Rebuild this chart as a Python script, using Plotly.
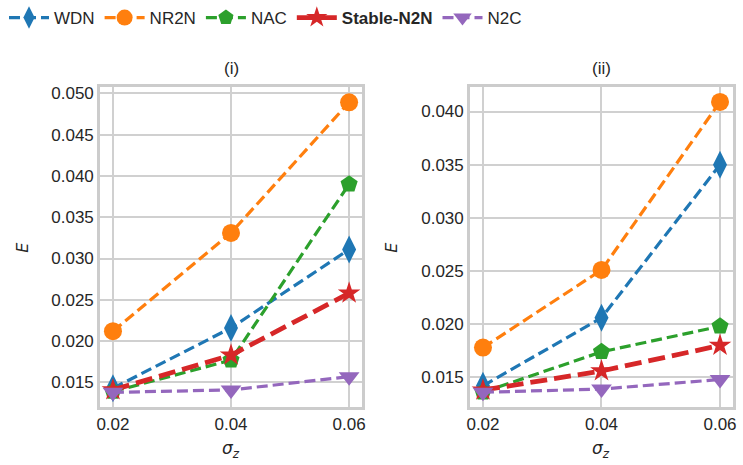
import plotly.graph_objects as go

sigma_z = [0.02, 0.04, 0.06]
methods = ["WDN", "NR2N", "NAC", "Stable-N2N", "N2C"]

# panel (i)
E_i = {
    "WDN":        [0.0143, 0.0216, 0.0311],
    "NR2N":       [0.0212, 0.0331, 0.0489],
    "NAC":        [0.0139, 0.0177, 0.0390],
    "Stable-N2N": [0.0141, 0.0183, 0.0258],
    "N2C":        [0.0138, 0.0141, 0.0157],
}
# panel (ii)
E_ii = {
    "WDN":        [0.0142, 0.0206, 0.0350],
    "NR2N":       [0.0178, 0.0251, 0.0409],
    "NAC":        [0.0136, 0.0174, 0.0198],
    "Stable-N2N": [0.0138, 0.0156, 0.0180],
    "N2C":        [0.0136, 0.0139, 0.0148],
}
yticks_i = [0.015, 0.020, 0.025, 0.030, 0.035, 0.040, 0.045, 0.050]
yticks_ii = [0.015, 0.020, 0.025, 0.030, 0.035, 0.040]
xticks = [0.02, 0.04, 0.06]

colors = {"WDN": "#1f77b4", "NR2N": "#ff7f0e", "NAC": "#2ca02c",
          "Stable-N2N": "#d62728", "N2C": "#9467bd"}
symbols = {"WDN": "diamond-tall", "NR2N": "circle", "NAC": "pentagon",
           "Stable-N2N": "star", "N2C": "triangle-down"}
msize = {"WDN": 20, "NR2N": 18, "NAC": 18, "Stable-N2N": 17, "N2C": 18}
lw = {"WDN": 3.2, "NR2N": 3.2, "NAC": 3.2, "Stable-N2N": 4.8, "N2C": 3.2}
dash = {"WDN": "11px,5px", "NR2N": "11px,5px", "NAC": "11px,5px",
        "Stable-N2N": "17px,7px", "N2C": "11px,5px"}

fig = go.Figure()
for panel, (data, xa, ya) in enumerate([(E_i, "x", "y"), (E_ii, "x2", "y2")]):
    for m in methods:
        name = "<b>Stable-N2N</b>" if m == "Stable-N2N" else m
        fig.add_trace(go.Scatter(
            x=sigma_z, y=data[m], xaxis=xa, yaxis=ya, name=name,
            mode="lines+markers", showlegend=(panel == 0), legendgroup=m,
            line=dict(color=colors[m], width=lw[m], dash=dash[m]),
            marker=dict(symbol=symbols[m], size=msize[m], color=colors[m],
                        line=dict(width=0)),
        ))

tickfont = dict(family="Liberation Sans, Arial, sans-serif", size=17, color="#262626")
axcommon = dict(showgrid=True, gridcolor="#d0d0d0", gridwidth=1.6,
                showline=True, linecolor="#cccccc", linewidth=2.5, mirror=True,
                zeroline=False, ticks="", tickfont=tickfont)

fig.update_layout(
    width=743, height=465,
    margin=dict(l=0, r=0, t=0, b=0),
    paper_bgcolor="white", plot_bgcolor="white",
    font=dict(family="Liberation Sans, Arial, sans-serif", size=17, color="#262626"),
    xaxis=dict(domain=[97/743, 362/743], range=[0.0178, 0.0622],
               tickvals=xticks, ticktext=["0.02", "0.04", "0.06"], anchor="y", **axcommon),
    yaxis=dict(domain=[58/465, 380/465], range=[0.0120, 0.0508],
               tickvals=yticks_i, tickformat=".3f", anchor="x", **axcommon),
    xaxis2=dict(domain=[471/743, 737/743], range=[0.0178, 0.0622],
                tickvals=xticks, ticktext=["0.02", "0.04", "0.06"], anchor="y2", **axcommon),
    yaxis2=dict(domain=[58/465, 380/465], range=[0.01219, 0.04234],
                tickvals=yticks_ii, tickformat=".3f", anchor="x2", **axcommon),
    legend=dict(orientation="h", x=0.0, y=1.005, yanchor="top", xanchor="left",
                font=dict(size=17, color="#262626"), bgcolor="rgba(0,0,0,0)",
                itemwidth=40, tracegroupgap=0),
    showlegend=True,
)

ann_font = dict(family="Liberation Sans, Arial, sans-serif", size=17, color="#262626")
for xc, txt in [((97 + 362) / 2 / 743, "(i)"), ((471 + 737) / 2 / 743, "(ii)")]:
    fig.add_annotation(x=xc, y=(465 - 67) / 465, xref="paper", yref="paper",
                       text=txt, showarrow=False, font=ann_font,
                       xanchor="center", yanchor="middle")
    fig.add_annotation(x=xc, y=(465 - 449) / 465, xref="paper", yref="paper",
                       text="<i>σ</i><sub><i>z</i></sub>", showarrow=False,
                       font=dict(family="DejaVu Sans, sans-serif", size=17, color="#262626"),
                       xanchor="center", yanchor="middle")
for xe in [19 / 743, 392 / 743]:
    fig.add_annotation(x=xe, y=(465 - 246) / 465, xref="paper", yref="paper",
                       text="<i>E</i>", showarrow=False, textangle=-90,
                       font=dict(family="DejaVu Sans, sans-serif", size=16, color="#262626"),
                       xanchor="center", yanchor="middle")

fig.write_html("out.html")
